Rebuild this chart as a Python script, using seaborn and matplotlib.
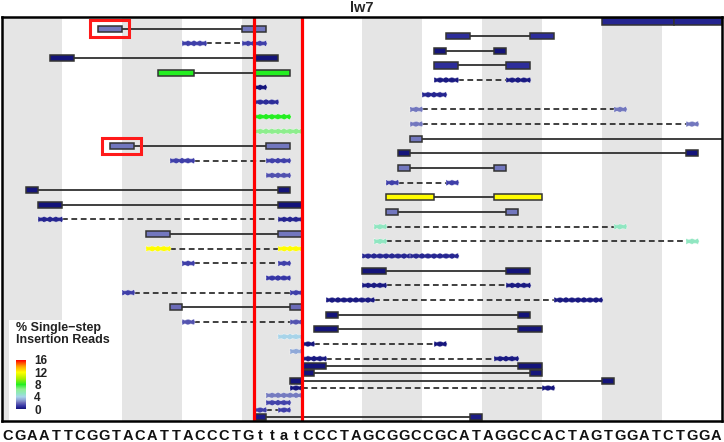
import numpy as np
import pandas as pd
import matplotlib
matplotlib.use("Agg")
import matplotlib.pyplot as plt
import seaborn as sns
from matplotlib.patches import Rectangle, Polygon
from matplotlib.colors import LinearSegmentedColormap, Normalize
import matplotlib.transforms as mtransforms
from matplotlib.cm import ScalarMappable

# ---------------- data ----------------
title = "lw7"
sequence = list("CGAATTCGGTACATTACCCTGttatCCCTAGCGGCCGCATAGGCCACTAGTGGATCTGGA")
cut_sites = [21, 25]

read_row = list(range(55))
read_style = ["B", "B", "B", "W", "B", "B", "B", "B", "W", "W",
              "W", "W", "W", "W", "W", "W", "B", "B", "B", "W",
              "B", "W", "W", "B", "B", "B", "B", "W", "W", "B",
              "W", "W", "W", "W", "B", "W", "W", "W", "W", "B",
              "B", "W", "B", "W", "W", "W", "W", "B", "B", "B",
              "W", "W", "W", "W", "B"]
read_pct = [0.5, 2.2, 0.8, 1.2, 0, 0, 0.8, 8, 0.2, 0,
            0.5, 0.8, 2.2, 8, 2.2, 6.5, 2.2, 2.2, 0, 1.2,
            2.2, 1.5, 1.2, 0, 12, 0, 2.2, 0.5, 5, 2.2,
            5, 12, 0.6, 1.2, 0, 1.0, 0.2, 1.2, 0.2, 2.0,
            0, 1.6, 0, 4, 0.1, 3, 0.2, 0, 0, 0,
            0.1, 2.3, 1.3, 1.2, 0.3]
left_start = [50, 8, 37, 15, 36, 4, 36, 13, 36, 21,
              35, 21, 34, 21, 34, 21, 34, 9, 33, 14,
              33, 22, 32, 2, 32, 3, 32, 3, 31, 12,
              31, 12, 30, 15, 30, 22, 30, 10, 27, 14,
              27, 15, 26, 23, 25, 24, 25, 25, 25, 24,
              24, 22, 22, 21, 21]
left_end = [56, 10, 39, 17, 37, 6, 38, 16, 38, 22,
            37, 23, 35, 24, 35, 25, 35, 11, 34, 16,
            34, 24, 33, 3, 36, 5, 33, 5, 32, 14,
            32, 14, 34, 16, 32, 24, 32, 11, 31, 15,
            28, 16, 28, 25, 26, 25, 27, 27, 26, 25,
            25, 25, 24, 22, 22]
nan = np.nan
right_start = [56, 20, 44, 20, 41, 21, 42, 21, 42, nan,
               nan, nan, 51, nan, 57, nan, 61, 22, 57, 22,
               41, nan, 37, 23, 41, 23, 42, 23, 51, 23,
               57, 23, 34, 23, 42, nan, 42, 24, 46, 24,
               43, 24, 43, nan, 36, nan, 41, 43, 44, 50,
               45, nan, nan, 23, 39]
right_end = [60, 22, 46, 22, 42, 23, 44, 24, 44, nan,
             nan, nan, 52, nan, 58, nan, 63, 24, 58, 24,
             42, nan, 38, 24, 45, 25, 43, 25, 52, 25,
             58, 25, 38, 24, 44, nan, 44, 25, 50, 25,
             44, 25, 45, nan, 37, nan, 43, 45, 45, 51,
             46, nan, nan, 24, 40]
highlighted_rows = [1, 17]

cbar_ticks = [0, 4, 8, 12, 16]
legend_title = "% Single\u2212step\nInsertion Reads"

reads = pd.DataFrame({"row": read_row, "style": read_style, "pct": read_pct,
                      "l0": left_start, "l1": left_end,
                      "r0": right_start, "r1": right_end})

# ---------------- style ----------------
sns.set_theme(style="white")
plt.rcParams["font.family"] = ["Liberation Sans", "DejaVu Sans"]

cmap = LinearSegmentedColormap.from_list("ins", [
    (0 / 16, "#14147a"), (1 / 16, "#3535a5"), (2 / 16, "#6b6bb8"),
    (3 / 16, "#90a8d8"), (4 / 16, "#a8d4ea"), (5 / 16, "#90e6c2"),
    (6.5 / 16, "#90ee90"), (8 / 16, "#22ee22"), (10 / 16, "#b0f000"),
    (12 / 16, "#ffff00"), (14 / 16, "#ffa000"), (16 / 16, "#ff0000")])
norm = Normalize(0, 16)

W, H = 724, 442
fig = plt.figure(figsize=(W / 100, H / 100), dpi=100)
fig.patch.set_facecolor("white")
ax = fig.add_axes([2 / W, 21 / H, 720 / W, 404 / H])
n_bases = len(sequence)
ax.set_xlim(0, n_bases)
ax.set_ylim(54.5, -0.6)
ax.set_xticks([])
ax.set_yticks([])
for s in ax.spines.values():
    s.set_color("black")
    s.set_linewidth(1.8)
    s.set_visible(True)
    s.set_zorder(20)

# shaded bands every 5 bases
for b in range(0, n_bases, 10):
    ax.axvspan(b, b + 5, color="#e5e5e5", lw=0, zorder=0)

box_h = 0.85
wav_h = 0.8


def wavy_poly(a, b, y, h):
    step = 0.25
    xs = np.arange(a, b + 1e-9, step)
    if xs[-1] < b:
        xs = np.append(xs, b)
    top = [(x, y - h / 2 + (0.16 if i % 2 else 0.0)) for i, x in enumerate(xs)]
    bot = [(x, y + h / 2 - (0.16 if i % 2 else 0.0)) for i, x in enumerate(xs)][::-1]
    return top + [(b + 0.1, y)] + bot


for _, r in reads.iterrows():
    col = cmap(norm(r["pct"]))
    y = r["row"]
    paired = not np.isnan(r["r0"])
    if paired and r["r0"] > r["l1"]:
        ax.plot([r["l1"], r["r0"]], [y, y], color="#303030", lw=1.3,
                ls="-" if r["style"] == "B" else (0, (3.2, 2.0)), zorder=2)
    segs = [(r["l0"], r["l1"])] + ([(r["r0"], r["r1"])] if paired else [])
    for a, b in segs:
        if r["style"] == "B":
            ax.add_patch(Rectangle((a, y - box_h / 2), b - a, box_h,
                                   facecolor=col, edgecolor="#333333",
                                   lw=1.1, zorder=3))
        else:
            ax.add_patch(Polygon(wavy_poly(a, b, y, wav_h), closed=True,
                                 facecolor=col, edgecolor="white",
                                 lw=0.5, ls=(0, (1, 1)), zorder=3))

# highlighted reads
for hr in highlighted_rows:
    r = reads.loc[reads["row"] == hr].iloc[0]
    ax.add_patch(Rectangle((r["l0"] - 0.65, hr - 1.15), (r["l1"] - r["l0"]) + 1.2, 2.3,
                           facecolor="none", edgecolor="#ff1a1a", lw=2.2,
                           zorder=6))

# cut site lines
for c in cut_sites:
    ax.axvline(c, color="#ff0000", lw=2.3, zorder=8)

# sequence below
trans = mtransforms.blended_transform_factory(ax.transData, ax.transAxes)
for i, ch in enumerate(sequence):
    ax.text(i + 0.5, -0.038, ch, transform=trans, ha="center", va="center",
            fontsize=10.5, fontweight="bold", color="#111111", clip_on=False)

fig.text(0.5, 1 - 8 / H, title, ha="center", va="center",
         fontsize=10.5, fontweight="bold")

# legend background
ax.add_patch(Rectangle(((9 - 2) / 12, (320 - 21.4) / 7.33),
                       (120 - 9) / 12, (422 - 320) / 7.33,
                       facecolor="white", edgecolor="none", zorder=9))
fig.text(16 / W, 1 - 334 / H, legend_title, ha="left", va="center",
         fontsize=9, fontweight="bold", color="#222222",
         linespacing=1.08, zorder=30)

cax = fig.add_axes([16 / W, (H - 409) / H, 10 / W, 49 / H])
cb = fig.colorbar(ScalarMappable(norm=norm, cmap=cmap), cax=cax,
                  ticks=cbar_ticks)
cb.outline.set_visible(False)
cax.tick_params(length=0, pad=6, labelsize=8.5)
for t in cax.get_yticklabels():
    t.set_fontweight("bold")
    t.set_color("#222222")

fig.savefig("out.png", dpi=100)
